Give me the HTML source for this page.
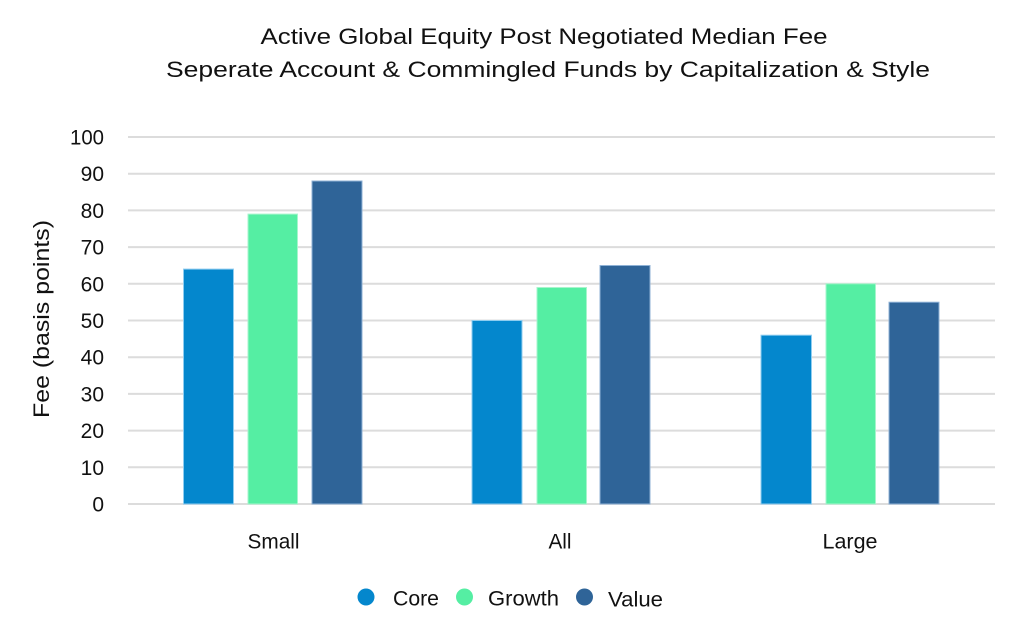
<!DOCTYPE html>
<html>
<head>
<meta charset="utf-8">
<style>
  html, body { margin: 0; padding: 0; background: #ffffff; }
  svg { display: block; }
  text { font-family: "Liberation Sans", "DejaVu Sans", sans-serif; fill: #111111; }
</style>
</head>
<body>
<svg width="1024" height="636" viewBox="0 0 1024 636" xmlns="http://www.w3.org/2000/svg">
  <rect width="1024" height="636" fill="#ffffff"/>

  <!-- Title -->
  <text x="544" y="44" font-size="22" text-anchor="middle" textLength="567" lengthAdjust="spacingAndGlyphs">Active Global Equity Post Negotiated Median Fee</text>
  <text x="548" y="77" font-size="22" text-anchor="middle" textLength="764" lengthAdjust="spacingAndGlyphs">Seperate Account &amp; Commingled Funds by Capitalization &amp; Style</text>

  <!-- Gridlines -->
  <g stroke="#dcdcdc" stroke-width="2">
    <line x1="128" y1="137" x2="995" y2="137"/>
    <line x1="128" y1="173.7" x2="995" y2="173.7"/>
    <line x1="128" y1="210.4" x2="995" y2="210.4"/>
    <line x1="128" y1="247.1" x2="995" y2="247.1"/>
    <line x1="128" y1="283.8" x2="995" y2="283.8"/>
    <line x1="128" y1="320.5" x2="995" y2="320.5"/>
    <line x1="128" y1="357.2" x2="995" y2="357.2"/>
    <line x1="128" y1="393.9" x2="995" y2="393.9"/>
    <line x1="128" y1="430.6" x2="995" y2="430.6"/>
    <line x1="128" y1="467.3" x2="995" y2="467.3"/>
    <line x1="128" y1="504" x2="995" y2="504"/>
  </g>

  <!-- Y tick labels -->
  <g font-size="21" text-anchor="end">
    <text x="104" y="144.5" textLength="34" lengthAdjust="spacingAndGlyphs">100</text>
    <text x="104" y="181.2">90</text>
    <text x="104" y="217.9">80</text>
    <text x="104" y="254.6">70</text>
    <text x="104" y="291.3">60</text>
    <text x="104" y="328">50</text>
    <text x="104" y="364.7">40</text>
    <text x="104" y="401.4">30</text>
    <text x="104" y="438.1">20</text>
    <text x="104" y="474.8">10</text>
    <text x="104" y="511.5">0</text>
  </g>

  <!-- Y axis title -->
  <text transform="translate(49,319) rotate(-90)" font-size="22" text-anchor="middle" textLength="198" lengthAdjust="spacingAndGlyphs">Fee (basis points)</text>

  <!-- Bars -->
  <g stroke-width="1">
    <!-- Small -->
    <rect x="183.5" y="269.1" width="50" height="234.9" fill="#0487cd" stroke="#8fcdf0"/>
    <rect x="248" y="214.1" width="49.5" height="289.9" fill="#55eea3" stroke="#a6f5cc"/>
    <rect x="312" y="181" width="50" height="323" fill="#2f6498" stroke="#8fb2d6"/>
    <!-- All -->
    <rect x="472" y="320.5" width="50" height="183.5" fill="#0487cd" stroke="#8fcdf0"/>
    <rect x="537" y="287.5" width="49.5" height="216.5" fill="#55eea3" stroke="#a6f5cc"/>
    <rect x="600" y="265.5" width="50" height="238.5" fill="#2f6498" stroke="#8fb2d6"/>
    <!-- Large -->
    <rect x="761" y="335.2" width="50.5" height="168.8" fill="#0487cd" stroke="#8fcdf0"/>
    <rect x="826" y="283.8" width="49.5" height="220.2" fill="#55eea3" stroke="#a6f5cc"/>
    <rect x="889" y="302.2" width="50" height="201.8" fill="#2f6498" stroke="#8fb2d6"/>
  </g>

  <!-- Category labels -->
  <g font-size="21">
    <text x="247.5" y="548.5" textLength="52" lengthAdjust="spacingAndGlyphs">Small</text>
    <text x="548.5" y="548.5" textLength="23" lengthAdjust="spacingAndGlyphs">All</text>
    <text x="822.5" y="548.5" textLength="55" lengthAdjust="spacingAndGlyphs">Large</text>
  </g>

  <!-- Legend -->
  <circle cx="366" cy="597" r="8.5" fill="#0487cd"/>
  <text x="393" y="605.5" font-size="21" textLength="46" lengthAdjust="spacingAndGlyphs">Core</text>
  <circle cx="464.5" cy="597" r="8.5" fill="#55eea3"/>
  <text x="488" y="605.5" font-size="21" textLength="71" lengthAdjust="spacingAndGlyphs">Growth</text>
  <circle cx="584.5" cy="597" r="8.5" fill="#2f6498"/>
  <text x="608" y="606.5" font-size="21" textLength="55" lengthAdjust="spacingAndGlyphs">Value</text>
</svg>
</body>
</html>
